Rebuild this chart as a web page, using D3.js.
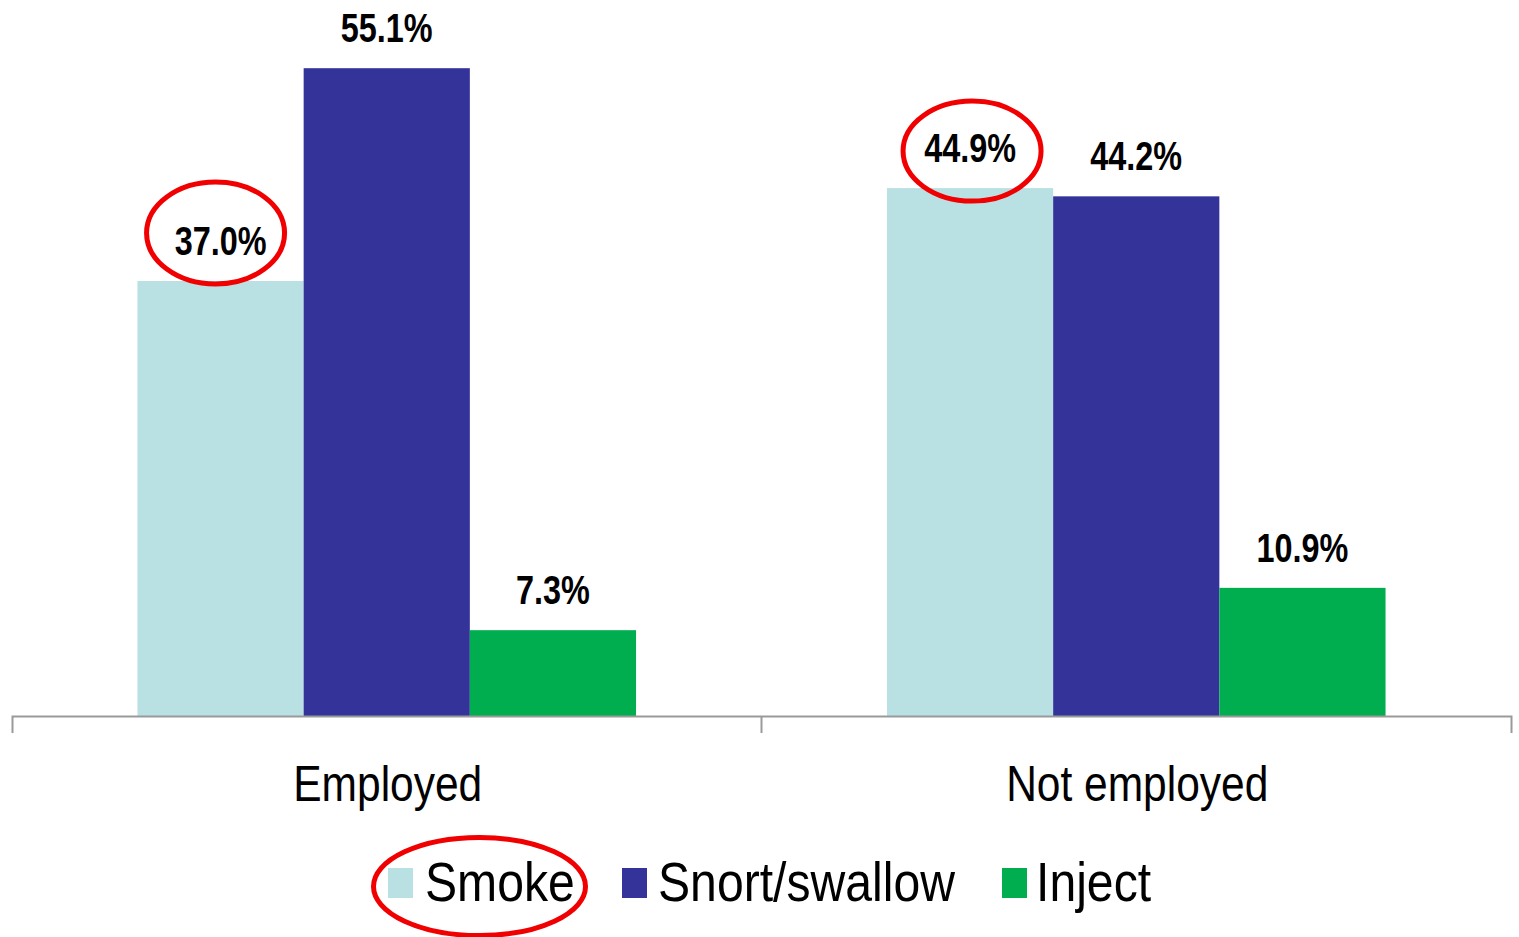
<!DOCTYPE html>
<html>
<head>
<meta charset="utf-8">
<script src="https://cdn.jsdelivr.net/npm/d3@7"></script>
<style>
  html, body { margin: 0; padding: 0; background: #fff; }
  svg { display: block; }
  text { font-family: "Liberation Sans", Arial, sans-serif; }
</style>
</head>
<body>
<svg id="chart" width="1519" height="937"></svg>
<script>
// Route of administration by employment status (%)
const categories = ["Employed", "Not employed"];
const seriesNames = ["Smoke", "Snort/swallow", "Inject"];
const smoke = [37.0, 44.9];
const snortSwallow = [55.1, 44.2];
const inject = [7.3, 10.9];
const seriesColors = ["#B9E0E3", "#343399", "#00AD4F"];

const values = [smoke, snortSwallow, inject];
const rows = categories.map((c, ci) => ({
  category: c,
  items: seriesNames.map((s, si) => ({ series: s, si, ci, value: values[si][ci] }))
}));

const svg = d3.select("#chart");
const baseY = 716;

const x0 = d3.scaleBand().domain(categories).range([12, 1511]).paddingInner(0).paddingOuter(0);
const x1 = d3.scaleBand().domain(seriesNames).range([0, x0.bandwidth()]).paddingInner(0).paddingOuter(0.755);
const y = d3.scaleLinear().domain([0, 60.9]).range([baseY, 0]);
const color = d3.scaleOrdinal().domain(seriesNames).range(seriesColors);

// Draw text horizontally condensed (narrow typeface look) around its anchor point
function narrowText(sel, factor) {
  sel.each(function () {
    const t = d3.select(this);
    const x = +t.attr("x"), yy = +t.attr("y");
    t.attr("x", 0).attr("y", 0)
     .attr("transform", `translate(${x},${yy}) scale(${factor},1)`);
  });
}

// Bars
const groups = svg.selectAll("g.group").data(rows).join("g")
  .attr("class", "group")
  .attr("transform", d => `translate(${x0(d.category)},0)`);

groups.selectAll("rect").data(d => d.items).join("rect")
  .attr("x", d => x1(d.series))
  .attr("y", d => y(d.value))
  .attr("width", x1.bandwidth())
  .attr("height", d => baseY - y(d.value))
  .attr("fill", d => color(d.series));

// Value labels
groups.selectAll("text.val").data(d => d.items).join("text")
  .attr("class", "val")
  .attr("x", d => x1(d.series) + x1.bandwidth() / 2)
  .attr("y", d => y(d.value) - 26)
  .attr("text-anchor", "middle")
  .attr("font-size", 40)
  .attr("font-weight", "bold")
  .attr("fill", "#000")
  .text(d => d.value.toFixed(1) + "%")
  .call(narrowText, 0.81);

// Category axis line with ticks on the band boundaries
const axisG = svg.append("g").attr("transform", `translate(0,${baseY})`)
  .call(d3.axisBottom(x0).tickSizeOuter(17).tickFormat(""));
axisG.selectAll(".tick").remove();
axisG.select(".domain").attr("stroke", "#9a9a9a").attr("stroke-width", 2);
const bounds = categories.slice(1).map(c => x0(c));
axisG.selectAll("line.sep").data(bounds).join("line")
  .attr("class", "sep")
  .attr("x1", d => d).attr("x2", d => d)
  .attr("y1", 0).attr("y2", 17)
  .attr("stroke", "#9a9a9a").attr("stroke-width", 2);

svg.append("g").selectAll("text").data(categories).join("text")
  .attr("x", d => x0(d) + x0.bandwidth() / 2 + 1)
  .attr("y", 801)
  .attr("text-anchor", "middle")
  .attr("font-size", 50)
  .attr("fill", "#000")
  .text(d => d)
  .call(narrowText, 0.85);

// Legend
const legendSwatchX = [388, 622, 1002];
const legendTextX = [425, 658, 1036];
const legend = svg.append("g");
legend.selectAll("rect").data(seriesNames).join("rect")
  .attr("x", (d, i) => legendSwatchX[i]).attr("y", 868)
  .attr("width", 25).attr("height", 30)
  .attr("fill", d => color(d));
legend.selectAll("text").data(seriesNames).join("text")
  .attr("x", (d, i) => legendTextX[i])
  .attr("y", 901)
  .attr("font-size", 56)
  .attr("fill", "#000")
  .text(d => d)
  .call(narrowText, 0.86);

// Red highlight rings around the Smoke figures and the Smoke legend entry
const rings = [
  { cx: x0("Employed") + x1("Smoke") + x1.bandwidth() / 2 - 5, cy: y(smoke[0]) - 48, rx: 69, ry: 51 },
  { cx: x0("Not employed") + x1("Smoke") + x1.bandwidth() / 2 + 2, cy: y(smoke[1]) - 37, rx: 69, ry: 50 },
  { cx: 479.5, cy: 886.5, rx: 106, ry: 49 }
];
svg.append("g").selectAll("ellipse").data(rings).join("ellipse")
  .attr("cx", d => d.cx).attr("cy", d => d.cy)
  .attr("rx", d => d.rx).attr("ry", d => d.ry)
  .attr("fill", "none")
  .attr("stroke", "#F00000")
  .attr("stroke-width", 5);
</script>
</body>
</html>
